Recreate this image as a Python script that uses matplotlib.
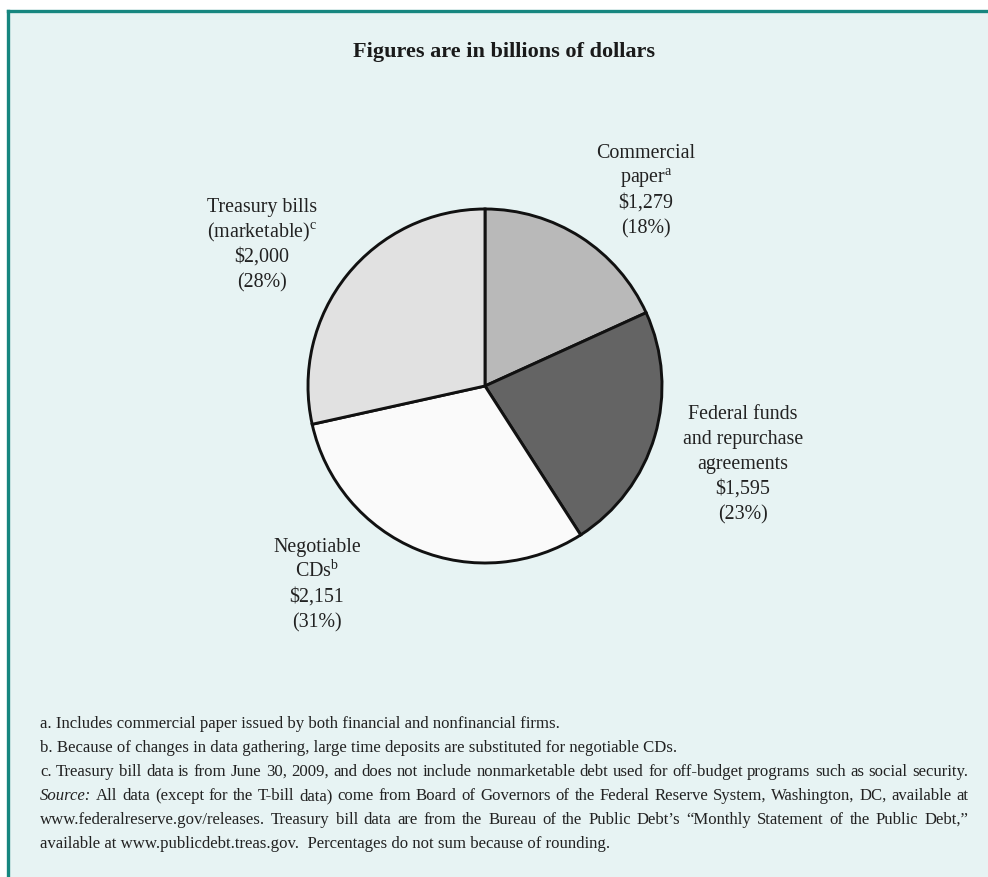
import matplotlib
matplotlib.use("Agg")
import matplotlib.pyplot as plt
from matplotlib.patches import Rectangle
from matplotlib.lines import Line2D

# Money market instruments outstanding, billions of dollars
categories = ["Commercial paper", "Federal funds and repurchase agreements",
              "Negotiable CDs", "Treasury bills (marketable)"]
values = [1279, 1595, 2151, 2000]
percents = [18, 23, 31, 28]
name_lines = [
    ["Commercial", "paper$^{\\mathrm{a}}$"],
    ["Federal funds", "and repurchase", "agreements"],
    ["Negotiable", "CDs$^{\\mathrm{b}}$"],
    ["Treasury bills", "(marketable)$^{\\mathrm{c}}$"],
]
colors = ["#b9b9b9", "#646464", "#fafafa", "#e1e1e1"]

title = "Figures are in billions of dollars"
notes = [
    "a. Includes commercial paper issued by both financial and nonfinancial firms.",
    "b. Because of changes in data gathering, large time deposits are substituted for negotiable CDs.",
    "c. Treasury bill data is from June 30, 2009, and does not include nonmarketable debt used for off-budget programs such as social security.",
    "Source: All data (except for the T-bill data) come from Board of Governors of the Federal Reserve System, Washington, DC, available at",
    "www.federalreserve.gov/releases. Treasury bill data are from the Bureau of the Public Debt\u2019s \u201cMonthly Statement of the Public Debt,\u201d",
    "available at www.publicdebt.treas.gov.  Percentages do not sum because of rounding.",
]
justified = [False, False, True, True, True, False]

W, H = 988, 877
SERIF = "Liberation Serif"
plt.rcParams["mathtext.fontset"] = "custom"
plt.rcParams["mathtext.rm"] = SERIF
plt.rcParams["font.family"] = SERIF

fig = plt.figure(figsize=(W / 100, H / 100), dpi=100)
fig.patch.set_facecolor("white")


def fx(x):
    return x / W


def fy(y):
    return 1 - y / H


# panel background and teal frame
fig.patches.append(Rectangle((fx(7), 0), 1, fy(10), transform=fig.transFigure,
                             facecolor="#e7f3f3", edgecolor="none", zorder=-5))
fig.add_artist(Line2D([fx(8), 1], [fy(10.5), fy(10.5)], color="#16867f", lw=2.4, zorder=-4))
fig.add_artist(Line2D([fx(8), fx(8)], [0, fy(10.5)], color="#16867f", lw=2.4, zorder=-4))

# pie
cx, cy, r = 485, 386, 177
ax = fig.add_axes([fx(cx - r), fy(cy + r), 2 * r / W, 2 * r / H])
wedges, _ = ax.pie(values, colors=colors, startangle=90, counterclock=False,
                   wedgeprops=dict(edgecolor="#111111", linewidth=2.1))
for w in wedges:
    w.set_clip_on(False)
ax.set_xlim(-1, 1)
ax.set_ylim(-1, 1)
ax.axis("off")

fig.text(fx(504), fy(57), title, ha="center", va="baseline",
         fontsize=16, fontweight="bold", color="#1a1a1a")

# slice labels: centre x and first baseline
label_pos = [(646, 158), (743, 419), (317, 552), (262, 212)]
for lines, v, p, (lx, ly) in zip(name_lines, values, percents, label_pos):
    rows = lines + [f"${v:,}", f"({p}%)"]
    for i, row in enumerate(rows):
        fig.text(fx(lx), fy(ly + 25 * i), row, ha="center", va="baseline",
                 fontsize=14.4, color="#222222")

# footnotes
renderer = fig.canvas.get_renderer()
x0, x1 = 40, 968
note_size = 12.1
for i, (line, just) in enumerate(zip(notes, justified)):
    y = fy(728 + 24 * i)
    words = line.split(" ")
    if not just:
        fig.text(fx(x0), y, line, ha="left", va="baseline",
                 fontsize=note_size, color="#222222")
        continue
    texts = []
    for j, wd in enumerate(words):
        style = "italic" if (j == 0 and wd == "Source:") else "normal"
        texts.append(fig.text(0, y, wd, ha="left", va="baseline", fontsize=note_size,
                              style=style, color="#222222"))
    widths = [t.get_window_extent(renderer).width for t in texts]
    gap = (x1 - x0 - sum(widths)) / (len(words) - 1)
    x = x0
    for t, wdt in zip(texts, widths):
        t.set_x(fx(x))
        x += wdt + gap

fig.savefig("out.png", dpi=100, facecolor=fig.get_facecolor())
